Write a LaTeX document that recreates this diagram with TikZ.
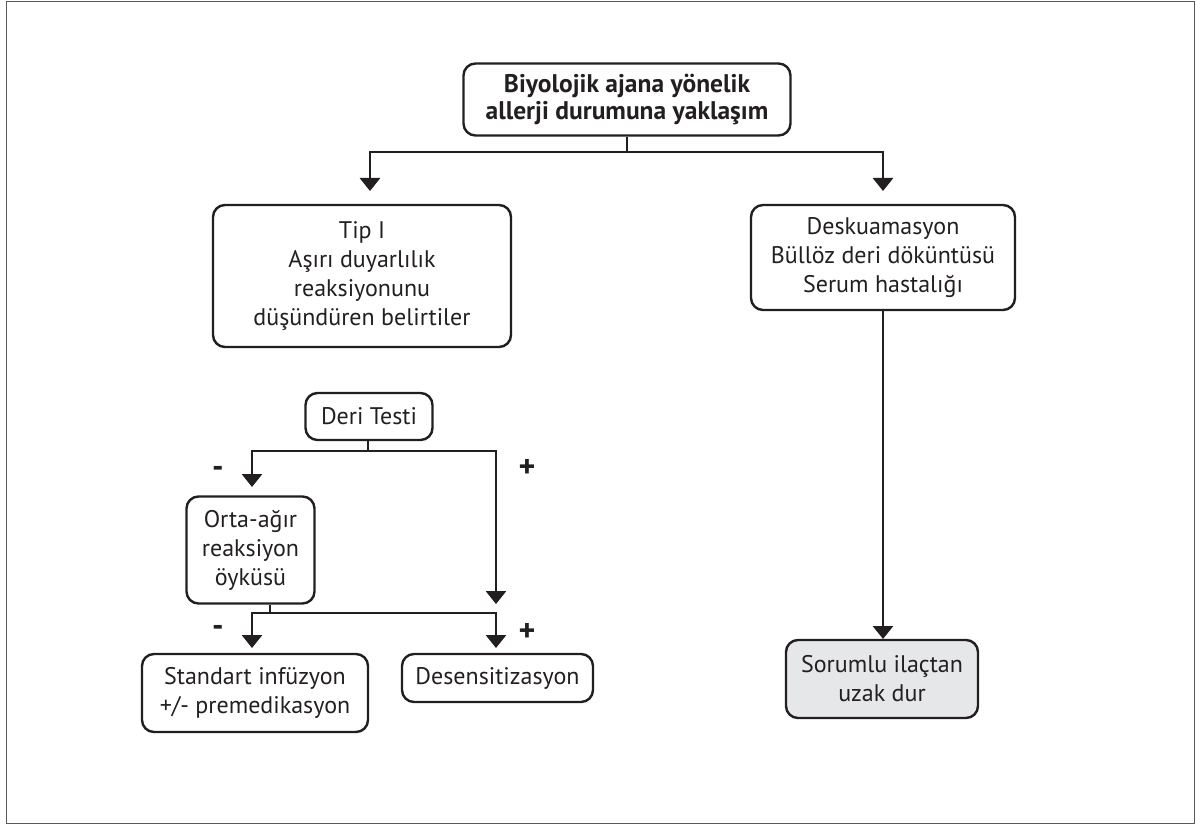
\documentclass[tikz,border=0pt]{standalone}
\usepackage{fontspec}
\setmainfont{PT Sans}
\usetikzlibrary{arrows.meta}
\definecolor{ink}{HTML}{231F20}
\definecolor{boxgray}{HTML}{E6E7E8}
\tikzset{
  box/.style={draw=ink, line width=2.4pt, rounded corners=12pt, align=center,
    inner sep=0pt, font=\fontsize{24}{29}\selectfont, text=ink},
  conn/.style={draw=ink, line width=2.8pt},
  arr/.style={conn, -{Triangle[width=20pt,length=13pt]}},
  sign/.style={font=\fontsize{32}{32}\selectfont\bfseries, text=ink, inner sep=0pt},
}
\begin{document}
\begin{tikzpicture}[x=1pt,y=-1pt]
\useasboundingbox (0,0) rectangle (1196,826);
\draw[line width=1.5pt, draw=black!65] (6.5,1.5) rectangle (1194.5,823.5);

\node[box, minimum width=327pt, minimum height=72pt, font=\fontsize{25.5}{27}\selectfont\bfseries] (top) at (627,99.5) {Biyolojik ajana yönelik\\allerji durumuna yaklaşım};
\node[box, minimum width=298pt, minimum height=142pt] (tip) at (362,276) {Tip I\\Aşırı duyarlılık\\reaksiyonunu\\düşündüren belirtiler};
\node[box, minimum width=264pt, minimum height=105pt] (desk) at (883,257.5) {Deskuamasyon\\Büllöz deri döküntüsü\\Serum hastalığı};
\node[box, minimum width=192pt, minimum height=78pt, fill=boxgray] (sor) at (882,679) {Sorumlu ilaçtan\\uzak dur};
\node[box, minimum width=127pt, minimum height=47pt] (deri) at (369,416.5) {Deri Testi};
\node[box, minimum width=128pt, minimum height=107pt] (orta) at (250.5,550) {Orta-ağır\\reaksiyon\\öyküsü};
\node[box, minimum width=226pt, minimum height=78pt] (std) at (255,693) {Standart infüzyon\\+/- premedikasyon};
\node[box, minimum width=191pt, minimum height=48pt] (des) at (497.5,678) {Desensitizasyon};

% top split
\coordinate (t1) at (627,152);
\coordinate (a1) at (370,191);
\coordinate (a2) at (883,191);
\draw[conn] (top.south) -- (t1);
\draw[arr] (t1) -| (a1);
\draw[arr] (t1) -| (a2);

% right column
\coordinate (a3) at (883,639);
\draw[arr] (desk.south) -- (a3);

% deri testi split
\coordinate (d1) at (368,451);
\coordinate (b1) at (252,487);
\coordinate (b2) at (496,604);
\draw[conn] (deri.south -| d1) -- (d1);
\draw[arr] (d1) -| (b1);
\draw[arr] (d1) -| (b2);

% orta split
\coordinate (o1) at (270,613);
\coordinate (c1) at (252,648);
\coordinate (c2) at (496,648);
\draw[conn] (orta.south -| o1) -- (o1);
\draw[arr] (o1) -| (c1);
\draw[arr] (o1) -| (c2);

\node[sign] (m1) at (218,472) {-};
\node[sign] (p1) at (527,468) {+};
\node[sign] (m2) at (218,631) {-};
\node[sign] (p2) at (527,632) {+};
\end{tikzpicture}
\end{document}
